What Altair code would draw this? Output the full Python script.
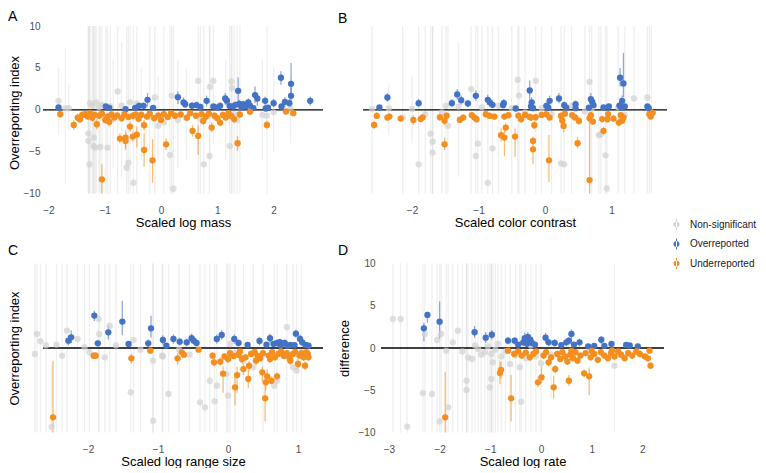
import altair as alt
import pandas as pd

CATS = ["Non-significant", "Overreported", "Underreported"]
COLORS = ["#d2d2d2", "#4472c4", "#f48f1f"]
FONT = "Liberation Sans"

# ---------- Panel A : Scaled log mass  (x, y, lower, upper) ----------
A_grey = [(-1.82, 1.08, -3.0, 5.0), (-1.70, 0.2, -8.9, 7.4), (-1.64, 0.2, -2.5, 3.0), (-1.29, -2.83, -10, 10),
          (-1.29, -3.71, -10, 10), (-1.27, -6.5, -10, 10), (-1.26, 0.8, -10, 10), (-1.22, 0.5, -10, 10),
          (-1.20, -4.3, -10, 10), (-1.19, -3.31, -10, 10), (-1.17, -4.51, -10, 10), (-1.15, 0.9, -10, 10),
          (-1.10, 0.3, -10, 10), (-1.08, -4.43, -10, 10), (-1.05, 0.6, -10, 10), (-0.98, -0.9, -10, 10),
          (-0.95, -4.51, -10, 10), (-0.90, 0.4, -10, 10), (-0.85, -1.1, -7, 6), (-0.77, 2.2, -10, 10),
          (-0.70, 0.5, -8, 8), (-0.61, -6.9, -10, 10), (-0.58, -6.3, -10, 10), (-0.55, 0.9, -10, 10),
          (-0.49, -8.7, -10, 10), (-0.43, 0.76, -10, 10), (-0.35, -0.5, -6, 5), (-0.20, -0.8, -10, 10),
          (-0.11, 1.48, -10, 10), (-0.05, -1.9, -6, 4), (0.05, -1.5, -10, 10), (0.16, -5.39, -10, 10),
          (0.19, 1.68, -10, 10), (0.22, -9.42, -10, 10), (0.30, -1.2, -7, 6), (0.45, -1.0, -6, 5),
          (0.66, 3.47, -10, 10), (0.70, -1.1, -10, 10), (0.76, -6.5, -10, 10), (0.86, -5.51, -10, 10),
          (0.87, 2.75, -6, 10), (0.93, 3.47, -4, 10), (1.15, -0.8, -6, 6), (1.22, -4.31, -10, 10),
          (1.25, 3.39, -10, 10), (1.26, 2.6, -10, 10), (1.30, -0.5, -10, 10), (1.35, -1.2, -10, 10),
          (1.40, 0.4, -10, 10), (1.80, -0.6, -6, 6), (1.88, -0.7, -10, 10), (2.00, -0.3, -5, 5),
          (2.30, 0.1, -4, 4)]
A_blue = [(-1.82, 0.28, 0.05, 0.5), (-0.98, 0.40, 0.1, 0.7), (-0.92, 0.24, 0.05, 0.45), (-0.63, 0.08, 0.02, 0.2),
          (-0.46, 0.24, 0.05, 0.45), (-0.39, 0.48, 0.1, 0.9), (-0.31, 0.48, 0.1, 0.9), (-0.24, 1.20, 0.4, 2.0),
          (-0.14, 0.24, 0.05, 0.45), (0.30, 1.52, 0.7, 2.2), (0.40, 0.88, 0.3, 1.5), (0.43, 0.68, 0.2, 1.1),
          (0.55, 0.50, 0.1, 0.9), (0.63, 0.56, 0.2, 1.0), (0.70, 0.35, 0.1, 0.6), (0.81, 1.08, 0.4, 1.7),
          (0.93, 0.40, 0.1, 0.7), (1.00, 0.30, 0.1, 0.5), (1.05, 0.48, 0.1, 0.9), (1.14, 1.36, 0.6, 2.0),
          (1.17, 1.10, 0.5, 1.6), (1.22, 0.45, 0.1, 0.8), (1.28, 0.40, 0.1, 0.7), (1.32, 0.60, 0.2, 1.0),
          (1.37, 2.27, 0.8, 3.9), (1.39, 0.70, 0.2, 1.2), (1.43, 0.30, 0.1, 0.5), (1.46, 0.68, 0.2, 1.1),
          (1.50, 0.40, 0.1, 0.7), (1.55, 0.88, 0.3, 1.4), (1.58, 0.50, 0.1, 0.9), (1.64, 0.20, 0.05, 0.4),
          (1.67, 1.76, 0.8, 2.8), (1.71, 1.36, 0.5, 2.0), (1.85, 1.08, 0.4, 1.6), (1.86, 0.16, 0.05, 0.3),
          (1.90, 0.25, 0.05, 0.45), (2.00, 0.80, 0.3, 1.3), (2.13, 3.83, 3.0, 4.6), (2.14, 0.40, 0.1, 0.7),
          (2.20, 0.96, 0.3, 1.5), (2.28, 0.80, 0.3, 1.3), (2.31, 1.68, 0.6, 2.7), (2.31, 3.11, 1.5, 5.6),
          (2.65, 1.08, 0.5, 1.6)]
A_orange = [(-1.79, -0.52, -0.9, -0.1), (-1.55, -1.80, -2.4, -1.2), (-1.48, -0.92, -1.4, -0.4), (-1.44, -1.12, -1.6, -0.6),
            (-1.40, -0.60, -1.0, -0.2), (-1.35, -0.52, -0.9, -0.15), (-1.30, -0.80, -1.2, -0.4), (-1.26, -0.40, -0.7, -0.1),
            (-1.22, -0.95, -1.4, -0.5), (-1.18, -0.60, -1.0, -0.2), (-1.14, -1.72, -2.3, -1.1), (-1.10, -0.70, -1.1, -0.3),
            (-1.05, -8.30, -10, -6.5), (-1.05, -0.45, -0.8, -0.1), (-0.99, -1.20, -1.7, -0.7), (-0.95, -0.80, -1.2, -0.4),
            (-0.92, -1.44, -2.0, -0.9), (-0.88, -0.55, -0.9, -0.2), (-0.83, -0.90, -1.3, -0.5), (-0.78, -0.65, -1.0, -0.3),
            (-0.73, -3.43, -4.0, -2.8), (-0.70, -1.00, -1.4, -0.6), (-0.65, -0.50, -0.9, -0.1), (-0.63, -3.31, -4.5, -2.5),
            (-0.63, -3.71, -4.8, -2.9), (-0.58, -0.85, -1.2, -0.5), (-0.55, -2.00, -2.6, -1.4), (-0.50, -3.19, -3.8, -2.6),
            (-0.50, -0.70, -1.1, -0.3), (-0.45, -0.55, -0.9, -0.2), (-0.43, -2.95, -4.5, -2.0), (-0.40, -1.05, -1.5, -0.6),
            (-0.35, -0.60, -1.0, -0.2), (-0.30, -1.84, -2.5, -1.2), (-0.30, -4.79, -6.8, -2.8), (-0.25, -0.80, -1.2, -0.4),
            (-0.20, -0.45, -0.8, -0.1), (-0.15, -6.03, -8.7, -3.5), (-0.12, -1.00, -1.4, -0.6), (-0.05, -0.65, -1.0, -0.3),
            (0.00, -1.20, -1.6, -0.8), (0.05, -0.50, -0.9, -0.1), (0.09, -4.11, -4.8, -3.4), (0.12, -0.85, -1.2, -0.5),
            (0.18, -0.40, -0.7, -0.1), (0.25, -0.70, -1.1, -0.3), (0.35, -0.55, -0.9, -0.2), (0.46, -0.92, -1.3, -0.5),
            (0.52, -0.40, -0.7, -0.1), (0.56, -2.51, -3.2, -1.8), (0.62, -0.70, -1.1, -0.3), (0.66, -3.11, -5.4, -1.8),
            (0.72, -0.50, -0.9, -0.1), (0.75, -1.32, -1.8, -0.8), (0.80, -0.80, -1.2, -0.4), (0.85, -0.45, -0.8, -0.1),
            (0.90, -2.12, -2.7, -1.5), (0.95, -0.70, -1.1, -0.3), (1.00, -1.00, -1.4, -0.6), (1.05, -1.52, -2.0, -1.0),
            (1.10, -0.60, -1.0, -0.2), (1.15, -0.90, -1.3, -0.5), (1.20, -0.40, -0.7, -0.1), (1.25, -0.75, -1.1, -0.4),
            (1.30, -1.10, -1.6, -0.6), (1.36, -3.99, -4.9, -3.1), (1.40, -0.55, -0.9, -0.2), (1.58, -0.24, -0.5, -0.05),
            (1.88, -1.80, -2.3, -1.3), (2.22, -0.20, -0.45, -0.05), (2.35, -0.40, -0.7, -0.1)]

# ---------- Panel B : Scaled color contrast ----------
B_grey = [(-2.60, 0.1, -10, 10), (-2.35, 0.2, -3, 3), (-2.14, -0.9, -10, 10), (-2.00, 0.1, -4, 4),
          (-1.90, -6.5, -10, 10), (-1.80, -0.5, -10, 10), (-1.72, -2.84, -10, 10), (-1.69, -3.8, -10, 10),
          (-1.69, -5.1, -10, 10), (-1.55, -0.3, -10, 10), (-1.49, 0.48, -10, 10), (-1.46, -1.9, -10, 10),
          (-1.30, 0.4, -8, 8), (-1.11, 2.48, -10, 10), (-1.04, -5.51, -10, 10), (-1.01, -4.03, -10, 10),
          (-0.95, 0.3, -10, 10), (-0.86, -8.71, -10, 10), (-0.79, -4.6, -10, 10), (-0.70, 0.5, -10, 10),
          (-0.50, 0.2, -10, 10), (-0.41, 3.59, -10, 10), (-0.39, 1.7, -10, 10), (-0.30, -0.3, -10, 10),
          (-0.14, 3.47, -10, 10), (-0.05, 0.2, -10, 10), (0.10, -0.5, -10, 10), (0.24, -6.4, -10, 10),
          (0.29, -6.5, -10, 10), (0.40, 0.5, -10, 10), (0.60, -0.2, -10, 10), (0.67, 3.35, -10, 10),
          (0.70, 0.1, -10, 10), (0.81, -3.03, -10, 10), (0.84, -2.91, -10, 10), (0.91, -5.43, -10, 10),
          (0.93, -9.38, -10, 10), (1.10, 0.3, -10, 10), (1.20, -0.6, -10, 10), (1.34, 1.36, -10, 10),
          (1.54, 1.48, -10, 10), (1.57, 0.0, -10, 10), (1.60, -0.4, -10, 10)]
B_blue = [(-2.49, 0.28, 0.05, 0.5), (-2.37, 1.48, 1.0, 2.0), (-1.90, 0.80, 0.3, 1.3), (-1.40, 0.80, 0.3, 1.3),
          (-1.32, 1.84, 1.2, 2.5), (-1.26, 1.16, 0.6, 1.7), (-1.16, 0.76, 0.3, 1.2), (-1.04, 1.68, 1.1, 2.3),
          (-0.86, 1.20, 0.6, 1.8), (-0.83, 0.90, 0.4, 1.4), (-0.79, 0.60, 0.2, 1.0), (-0.63, 0.56, 0.2, 1.0),
          (-0.62, 0.80, 0.3, 1.3), (-0.44, 0.16, 0.05, 0.3), (-0.23, 2.31, 1.2, 3.5), (-0.20, 0.90, 0.3, 1.5),
          (-0.21, 0.40, 0.1, 0.7), (-0.18, 0.20, 0.05, 0.4), (0.02, 0.48, 0.1, 0.9), (0.07, 1.08, 0.5, 1.7),
          (0.05, 0.25, 0.05, 0.45), (0.21, 1.36, 0.8, 2.0), (0.29, 0.56, 0.2, 1.0), (0.32, 0.25, 0.05, 0.45),
          (0.46, 0.68, 0.2, 1.1), (0.46, 0.20, 0.05, 0.4), (0.69, 1.28, 0.5, 2.0), (0.71, 0.96, 0.4, 1.5),
          (0.73, 0.56, 0.2, 1.0), (0.66, 0.25, 0.05, 0.45), (0.88, 0.28, 0.05, 0.5), (0.96, 0.40, 0.1, 0.7),
          (1.13, 3.83, 2.8, 5.0), (1.18, 3.15, 1.5, 6.8), (1.16, 1.08, 0.5, 1.7), (1.12, 0.50, 0.1, 0.9),
          (1.15, 0.25, 0.05, 0.45), (1.20, 0.40, 0.1, 0.7), (1.54, 0.40, 0.1, 0.7), (1.56, 0.20, 0.05, 0.4)]
B_orange = [(-2.57, -1.80, -2.3, -1.3), (-2.53, -0.72, -1.1, -0.3), (-2.37, -0.92, -1.3, -0.5), (-2.34, -0.80, -1.2, -0.4),
            (-2.17, -1.04, -1.4, -0.6), (-1.98, -1.20, -1.8, -0.6), (-1.87, -1.10, -1.5, -0.7), (-1.84, -0.90, -1.3, -0.5),
            (-1.58, -0.88, -1.3, -0.5), (-1.51, -1.30, -1.8, -0.8), (-1.48, -0.70, -1.1, -0.3), (-1.51, -4.11, -4.8, -3.3),
            (-1.28, -1.20, -1.6, -0.8), (-1.23, -0.92, -1.3, -0.5), (-1.10, -0.64, -1.0, -0.3), (-1.06, -0.92, -1.3, -0.5),
            (-1.03, -1.12, -1.5, -0.7), (-0.89, -0.52, -0.9, -0.2), (-0.83, -0.72, -1.1, -0.3), (-0.76, -0.80, -1.2, -0.4),
            (-0.66, -3.03, -3.8, -2.2), (-0.61, -3.31, -5.5, -2.3), (-0.59, -2.12, -2.7, -1.5), (-0.61, -0.80, -1.2, -0.4),
            (-0.55, -0.64, -1.0, -0.3), (-0.45, -3.19, -5.6, -2.2), (-0.40, -0.70, -1.0, -0.3), (-0.36, -1.12, -1.5, -0.7),
            (-0.30, -0.60, -1.0, -0.2), (-0.23, -0.84, -1.2, -0.4), (-0.21, -0.92, -1.3, -0.5), (-0.14, -0.88, -1.3, -0.5),
            (-0.16, -1.84, -2.3, -1.3), (-0.18, -3.71, -4.2, -3.2), (-0.18, -4.71, -6.5, -3.5), (-0.05, -0.60, -1.0, -0.2),
            (0.02, -0.52, -0.9, -0.2), (0.07, -0.92, -1.3, -0.5), (0.06, -6.03, -8.6, -3.0), (0.24, -0.72, -1.1, -0.3),
            (0.26, -1.28, -1.7, -0.8), (0.28, -1.92, -2.7, -1.3), (0.30, -0.45, -0.8, -0.1), (0.41, -0.64, -1.0, -0.3),
            (0.45, -0.90, -1.3, -0.5), (0.51, -1.32, -1.8, -0.8), (0.49, -3.99, -4.6, -3.2), (0.69, -0.64, -1.0, -0.3),
            (0.67, -1.00, -1.4, -0.6), (0.72, -1.40, -1.8, -1.0), (0.67, -8.38, -10, -1.0), (0.88, -2.51, -3.0, -2.0),
            (0.86, -1.10, -1.5, -0.7), (0.94, -1.12, -1.5, -0.7), (0.95, -0.50, -0.9, -0.2), (1.03, -1.04, -1.4, -0.6),
            (1.11, -1.52, -2.0, -1.0), (1.16, -1.30, -1.7, -0.9), (1.14, -0.64, -1.0, -0.3), (1.18, -0.90, -1.3, -0.5),
            (1.57, -0.52, -0.9, -0.2), (1.59, -0.80, -1.2, -0.4), (1.62, -0.35, -0.7, -0.1)]

# ---------- Panel C : Scaled log range size ----------
C_grey = [(-2.76, -0.71, -10, 10), (-2.73, 1.66, -10, 10), (-2.68, 0.80, -10, 10), (-2.60, 0.3, -10, 10),
          (-2.52, -9.31, -10, -2), (-2.45, 0.4, -10, 10), (-2.37, -0.91, -10, 10), (-2.30, 2.05, -10, 10),
          (-2.15, 1.07, -10, 10), (-2.05, 0.1, -10, 10), (-1.98, -0.5, -10, 10), (-1.85, 3.43, -10, 10),
          (-1.84, 1.66, -10, 10), (-1.76, -1.10, -10, 10), (-1.69, 2.64, -10, 10), (-1.60, 0.3, -10, 10),
          (-1.39, -5.24, -10, 10), (-1.35, 0.95, -10, 10), (-1.25, -0.2, -10, 10), (-1.07, -8.60, -10, 10),
          (-1.07, -1.50, -10, 10), (-0.94, -0.91, -10, 10), (-0.93, -1.00, -10, 10), (-0.85, -5.44, -10, 10),
          (-0.70, -0.2, -10, 10), (-0.55, -0.8, -10, 10), (-0.40, -6.43, -10, 10), (-0.33, -7.02, -10, 10),
          (-0.26, -3.87, -10, 10), (-0.19, -6.31, -10, 10), (-0.16, -4.46, -10, 10), (-0.02, -3.08, -10, 10),
          (0.00, -5.64, -10, 10), (0.03, 0.47, -10, 10), (0.10, -0.6, -10, 10), (0.22, -1.50, -10, 10),
          (0.36, -2.29, -10, 10), (0.50, -0.9, -10, 10), (0.66, -4.46, -10, 10), (0.70, -3.87, -10, 10),
          (0.84, 2.45, -10, 10), (0.93, -2.29, -10, 10), (0.98, -2.68, -10, 10), (1.05, -0.5, -10, 10)]
C_blue = [(-2.28, 0.87, 0.3, 1.5), (-2.24, 1.26, 0.6, 2.1), (-1.91, 3.83, 3.2, 4.4), (-1.86, 0.55, 0.2, 0.9),
          (-1.71, 1.85, 1.0, 2.7), (-1.51, 3.12, 1.5, 5.6), (-1.42, 0.47, 0.1, 0.8), (-1.14, 0.55, 0.1, 1.0),
          (-1.10, 2.33, 1.2, 3.8), (-0.93, 0.95, 0.4, 1.5), (-0.88, 0.28, 0.05, 0.5), (-0.78, 1.07, 0.5, 1.6),
          (-0.69, 0.75, 0.3, 1.2), (-0.59, 0.67, 0.2, 1.1), (-0.52, 1.15, 0.6, 1.7), (-0.49, 0.87, 0.4, 1.3),
          (-0.45, 0.59, 0.2, 1.0), (-0.16, 1.07, 0.5, 1.6), (-0.09, 1.54, 1.0, 2.1), (0.09, 1.07, 0.5, 1.6),
          (0.15, 0.59, 0.2, 1.0), (0.28, 0.36, 0.1, 0.6), (0.45, 0.83, 0.3, 1.3), (0.55, 0.39, 0.1, 0.7),
          (0.60, 1.15, 0.6, 1.7), (0.65, 0.47, 0.1, 0.8), (0.70, 0.59, 0.2, 1.0), (0.74, 0.70, 0.3, 1.1),
          (0.75, 0.30, 0.05, 0.55), (0.79, 0.55, 0.2, 0.9), (0.81, 0.59, 0.2, 1.0), (0.85, 0.28, 0.05, 0.5),
          (0.89, 0.36, 0.1, 0.6), (0.95, 0.35, 0.1, 0.6), (0.97, 1.69, 1.2, 2.2), (1.03, 1.07, 0.5, 1.6),
          (1.06, 0.67, 0.2, 1.1), (1.11, 0.36, 0.1, 0.6), (1.15, 0.28, 0.05, 0.5)]
C_orange = [(-2.50, -8.20, -10, -1.5), (-1.92, -0.91, -1.3, -0.5), (-1.89, -0.91, -1.3, -0.5), (-1.38, -1.22, -1.8, -0.7),
            (-1.11, -0.32, -0.6, -0.1), (-0.72, -1.22, -2.0, -0.6), (-0.66, -0.51, -0.9, -0.2), (-0.63, -0.79, -1.2, -0.4),
            (-0.42, -0.20, -0.45, -0.05), (-0.22, -0.91, -1.3, -0.5), (-0.20, -1.69, -2.2, -1.2), (-0.11, -1.62, -2.1, -1.1),
            (-0.07, -3.04, -5.3, -2.2), (-0.05, -1.00, -1.4, -0.6), (0.00, -1.30, -1.8, -0.8), (0.03, -0.60, -1.0, -0.2),
            (0.08, -0.95, -1.3, -0.6), (0.10, -4.65, -6.8, -3.0), (0.13, -3.20, -5.3, -2.2), (0.15, -0.80, -1.2, -0.4),
            (0.17, -0.40, -0.7, -0.1), (0.20, -1.30, -1.8, -0.8), (0.22, -2.49, -3.2, -1.8), (0.25, -1.10, -1.5, -0.7),
            (0.29, -3.67, -4.7, -2.6), (0.30, -2.10, -2.7, -1.5), (0.33, -0.70, -1.1, -0.3), (0.38, -0.45, -0.8, -0.1),
            (0.40, -1.50, -2.0, -1.0), (0.42, -0.90, -1.3, -0.5), (0.46, -1.20, -1.6, -0.8), (0.49, -2.88, -4.0, -2.2),
            (0.50, -0.60, -1.0, -0.2), (0.53, -5.95, -8.7, -3.5), (0.54, -4.06, -5.0, -3.0), (0.56, -3.35, -4.2, -2.5),
            (0.58, -0.90, -1.3, -0.5), (0.60, -1.30, -1.8, -0.8), (0.62, -3.87, -4.3, -3.4), (0.63, -0.50, -0.9, -0.2),
            (0.67, -1.10, -1.5, -0.7), (0.70, -3.35, -3.8, -2.9), (0.72, -0.70, -1.1, -0.3), (0.76, -0.40, -0.7, -0.1),
            (0.80, -0.95, -1.3, -0.6), (0.84, -0.60, -1.0, -0.2), (0.88, -1.20, -1.6, -0.8), (0.89, -1.50, -2.0, -1.0),
            (0.93, -0.70, -1.1, -0.3), (0.96, -0.45, -0.8, -0.1), (1.00, -1.89, -2.5, -1.3), (1.02, -0.90, -1.3, -0.5),
            (1.05, -0.60, -1.0, -0.2), (1.08, -1.10, -1.5, -0.7), (1.10, -2.09, -2.6, -1.6), (1.12, -0.50, -0.9, -0.2),
            (1.14, -0.71, -1.1, -0.3), (1.15, -1.10, -1.5, -0.7)]

# ---------- Panel D : Scaled log rate ----------
D_grey = [(-2.92, 3.43, -10, 10), (-2.77, 3.43, -10, 10), (-2.64, -9.31, -10, 10), (-2.33, -5.33, -10, 10),
          (-2.29, 1.66, -10, 10), (-2.15, -5.44, -10, 10), (-2.05, 0.95, -10, 10), (-2.00, -8.68, -10, 10),
          (-1.97, 1.66, -10, 10), (-1.87, -0.32, -10, 10), (-1.83, -7.02, -10, 10), (-1.74, 0.67, -10, 10),
          (-1.64, 2.05, -10, 10), (-1.55, -0.4, -10, 10), (-1.47, -4.97, -10, 10), (-1.47, -3.87, -10, 10),
          (-1.44, -1.10, -10, 10), (-1.36, -1.30, -10, 10), (-1.30, 0.3, -10, 10), (-1.24, -0.12, -10, 10),
          (-1.18, -0.8, -10, 10), (-1.11, -0.50, -10, 10), (-1.05, 0.2, -10, 10), (-1.01, -4.65, -10, 10),
          (-0.98, -0.70, -10, 10), (-0.98, -3.67, -10, 10), (-0.95, -1.69, -10, 10), (-0.90, -0.2, -10, 10),
          (-0.85, 0.5, -10, 10), (-0.78, -1.0, -10, 10), (-0.70, -0.4, -10, 10), (-0.61, -1.89, -10, 10),
          (-0.50, -0.9, -10, 10), (-0.42, -2.29, -10, 10), (-0.39, -6.35, -10, 10), (-0.30, -1.2, -10, 10),
          (-0.20, 0.3, -10, 10), (-0.10, -1.0, -10, 10), (0.00, -1.8, -10, 10), (0.20, -0.8, -6, 6),
          (1.45, -2.09, -10, 10)]
D_blue = [(-2.31, 2.33, 0.8, 3.0), (-2.24, 3.91, 3.0, 4.3), (-2.00, 3.11, 1.1, 5.5), (-1.31, 1.86, 1.2, 2.6),
          (-1.09, 1.22, 0.6, 1.9), (-0.97, 1.58, 1.0, 2.1), (-0.65, 0.87, 0.4, 1.3), (-0.52, 0.87, 0.4, 1.3),
          (-0.45, 0.40, 0.1, 0.7), (-0.35, 0.67, 0.2, 1.2), (-0.32, 1.15, 0.5, 1.8), (-0.28, 0.50, 0.1, 0.9),
          (-0.26, 1.30, 0.7, 1.9), (-0.21, 1.00, 0.4, 1.5), (-0.18, 0.60, 0.2, 1.0), (-0.12, 0.40, 0.1, 0.7),
          (0.09, 1.22, 0.6, 1.8), (0.15, 0.67, 0.2, 1.1), (0.27, 0.59, 0.2, 1.0), (0.40, 0.35, 0.1, 0.6),
          (0.50, 0.67, 0.2, 1.1), (0.55, 0.87, 0.4, 1.3), (0.60, 1.66, 1.1, 2.2), (0.65, 0.40, 0.1, 0.7),
          (0.76, 0.67, 0.2, 1.1), (0.93, 0.20, 0.05, 0.4), (1.05, 0.25, 0.05, 0.45), (1.19, 0.98, 0.5, 1.4),
          (1.25, 0.25, 0.05, 0.45), (1.39, 0.47, 0.1, 0.8), (1.68, 0.36, 0.1, 0.6), (1.75, 0.30, 0.05, 0.55),
          (1.91, 0.20, 0.05, 0.4)]
D_orange = [(-1.89, -8.20, -10, -2.8), (-0.81, -2.96, -4.3, -1.5), (-0.79, -2.60, -3.6, -1.6), (-0.65, -0.32, -0.6, -0.1),
            (-0.59, -5.95, -8.7, -3.2), (-0.53, -0.71, -1.1, -0.3), (-0.45, -0.40, -0.8, -0.1), (-0.38, -0.90, -1.3, -0.5),
            (-0.30, -0.55, -0.9, -0.2), (-0.22, -1.10, -1.5, -0.7), (-0.15, -0.70, -1.1, -0.3), (-0.10, -0.40, -0.8, -0.1),
            (-0.06, -4.06, -4.6, -3.4), (0.01, -3.47, -4.2, -2.2), (0.05, -0.90, -1.3, -0.5), (0.10, -0.50, -0.9, -0.2),
            (0.15, -1.70, -2.2, -1.2), (0.20, -1.10, -1.5, -0.7), (0.25, -4.65, -6.0, -3.3), (0.28, -2.49, -3.0, -2.0),
            (0.32, -0.70, -1.1, -0.3), (0.38, -1.30, -1.7, -0.9), (0.42, -0.50, -0.9, -0.2), (0.48, -1.00, -1.4, -0.6),
            (0.52, -1.60, -2.0, -1.2), (0.55, -3.87, -4.5, -3.2), (0.58, -0.80, -1.2, -0.4), (0.60, -0.35, -0.7, -0.1),
            (0.63, -1.20, -1.6, -0.8), (0.68, -0.50, -0.9, -0.2), (0.72, -1.50, -1.9, -1.1), (0.78, -0.90, -1.3, -0.5),
            (0.85, -3.00, -3.5, -2.5), (0.88, -0.60, -1.0, -0.2), (0.95, -3.35, -5.6, -2.3), (0.98, -1.10, -1.5, -0.7),
            (1.00, -0.35, -0.7, -0.1), (1.05, -0.70, -1.1, -0.3), (1.12, -1.40, -1.8, -1.0), (1.18, -0.50, -0.9, -0.2),
            (1.25, -0.90, -1.3, -0.5), (1.32, -1.20, -1.6, -0.8), (1.38, -0.60, -1.0, -0.2), (1.40, -0.30, -0.6, -0.05),
            (1.45, -1.00, -1.4, -0.6), (1.52, -0.40, -0.8, -0.1), (1.58, -0.80, -1.2, -0.4), (1.65, -1.20, -1.6, -0.8),
            (1.72, -0.60, -1.0, -0.2), (1.80, -0.90, -1.3, -0.5), (1.88, -0.40, -0.8, -0.1), (1.95, -0.70, -1.1, -0.3),
            (2.05, -1.00, -1.4, -0.6), (2.11, -1.22, -1.6, -0.8), (2.14, -0.32, -0.6, -0.1), (2.16, -2.09, -2.5, -1.7)]

Y_TICKS = [-10, -5, 0, 5, 10]
Y_DOMAIN_TOP = [-11, 10.37]
Y_DOMAIN_BOTTOM = [-11, 11]

# circle with a thin vertical bar through it (point + interval key)
LEGEND_SYMBOL = ("M-0.09,-1L0.09,-1L0.09,1L-0.09,1Z"
                 "M-0.55,0A0.55,0.55,0,1,0,0.55,0A0.55,0.55,0,1,0,-0.55,0Z")

# interval colours follow the same category -> colour pairing as the points
RULE_COLOR = {
    "condition": [
        {"test": f"datum.sig === '{CATS[0]}'", "value": COLORS[0]},
        {"test": f"datum.sig === '{CATS[1]}'", "value": COLORS[1]},
    ],
    "value": COLORS[2],
}


def make_df(grey, blue, orange):
    rows = []
    for cat, pts in zip(CATS, [grey, blue, orange]):
        for x, y, lo, hi in pts:
            rows.append({"x": x, "y": y, "lo": lo, "hi": hi, "sig": cat})
    return pd.DataFrame(rows)


LEGEND = alt.Legend(title=None, orient="none", legendX=628, legendY=196,
                    symbolType=LEGEND_SYMBOL, symbolSize=121, symbolStrokeWidth=0,
                    labelFontSize=10, labelFont=FONT, labelColor="#1a1a1a",
                    rowPadding=8.5, labelOffset=8, padding=0)


def panel(df, xdom, ydom, xticks, xtitle, ytitle, yticks, width, height, letter, dx,
          labelpad, extent, ytitlepad):
    xenc = alt.X("x:Q", scale=alt.Scale(domain=xdom, nice=False, zero=False),
                 axis=alt.Axis(values=xticks, title=xtitle, format="d", labelPadding=3, titlePadding=1))
    if ytitle is None:
        yaxis = None
    else:
        yaxis = alt.Axis(values=yticks, title=ytitle, labelPadding=labelpad,
                         minExtent=extent, maxExtent=extent,
                         titlePadding=ytitlepad, format="d")
    yscale = alt.Scale(domain=ydom, nice=False, zero=False)
    cscale = alt.Scale(domain=CATS, range=COLORS)

    base = alt.Chart(df)
    rules = base.mark_rule(strokeWidth=1.3).encode(
        x=xenc,
        y=alt.Y("lo:Q", scale=yscale, axis=yaxis),
        y2="hi:Q",
        color=RULE_COLOR,
        opacity=alt.condition("datum.sig == 'Non-significant'", alt.value(0.35), alt.value(0.6)),
    )
    zero = base.mark_rule(color="black", strokeWidth=1.4).encode(
        y=alt.Y("zero:Q", scale=yscale, axis=yaxis)
    ).transform_aggregate(n="count()").transform_calculate(zero="0")
    pts = base.mark_circle(size=40, opacity=1).encode(
        x=xenc,
        y=alt.Y("y:Q", scale=yscale, axis=yaxis),
        color=alt.Color("sig:N", scale=cscale, legend=LEGEND),
        opacity=alt.condition("datum.sig == 'Non-significant'", alt.value(0.7), alt.value(1.0)),
    )
    return alt.layer(rules, zero, pts).properties(
        width=width, height=height,
        title=alt.TitleParams(text=letter, anchor="start", frame="group", dx=dx, fontSize=14,
                              fontWeight="normal", font=FONT, color="black", offset=-3),
    )


dfA = make_df(A_grey, A_blue, A_orange)
dfB = make_df(B_grey, B_blue, B_orange)
dfC = make_df(C_grey, C_blue, C_orange)
dfD = make_df(D_grey, D_blue, D_orange)

pA = panel(dfA, [-2.096, 2.877], Y_DOMAIN_TOP, [-2, -1, 0, 1, 2], "Scaled log mass",
           "Overreporting index", Y_TICKS, 280, 179, "A", -35, 3, 20, 2)
pB = panel(dfB, [-2.737, 1.835], Y_DOMAIN_TOP, [-2, -1, 0, 1], "Scaled color contrast",
           None, Y_TICKS, 304, 179, "B", -25, 3, 20, 2)
pC = panel(dfC, [-2.643, 1.357], Y_DOMAIN_BOTTOM, [-2, -1, 0, 1], "Scaled log range size",
           "Overreporting index", [], 280, 186, "C", -35, 3, 0, 22)
pD = panel(dfD, [-3.156, 2.426], Y_DOMAIN_BOTTOM, [-3, -2, -1, 0, 1, 2], "Scaled log rate",
           "difference", Y_TICKS, 283, 186, "D", -43, 6, 23, 7)

chart = alt.ConcatChart(
    concat=[pA, pB, pC, pD], columns=2, align="none", bounds="full",
    spacing={"row": 15, "column": 14},
).properties(
    padding={"left": 0, "top": 2, "right": 0, "bottom": 0}, background="white"
).configure(font=FONT).configure_view(stroke=None).configure_axis(
    domain=False, ticks=False, tickSize=0, grid=False,
    labelFontSize=10, labelColor="#4d4d4d", labelFont=FONT,
    titleFontSize=13, titleFontWeight="normal", titleColor="black", titleFont=FONT,
)

chart.save("out.html", embed_options={"renderer": "svg", "actions": False})
